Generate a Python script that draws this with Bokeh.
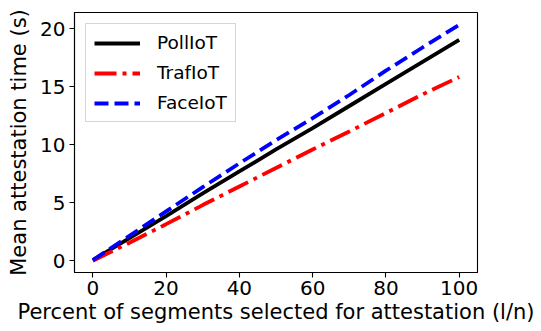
from bokeh.plotting import figure
from bokeh.embed import file_html
from bokeh.resources import INLINE
from bokeh.models import FixedTicker

# ---- data ----
percent = [0, 10, 20, 30, 40, 50, 60, 70, 80, 90, 100]
polliot = [0.05, 1.95, 3.85, 5.8, 7.7, 9.6, 11.45, 13.35, 15.25, 17.15, 19.05]
trafiot = [0.0, 1.55, 3.15, 4.8, 6.4, 8.0, 9.6, 11.15, 12.75, 14.35, 15.85]
faceiot = [0.05, 2.15, 4.25, 6.35, 8.4, 10.4, 12.3, 14.3, 16.4, 18.4, 20.35]
x_ticks = [0, 20, 40, 60, 80, 100]
y_ticks = [0, 5, 10, 15, 20]
xlabel = "Percent of segments selected for attestation (l/n)"
ylabel = "Mean attestation time (s)"

FONT = "DejaVu Sans"

p = figure(width=541, height=331, x_range=(-5, 105), y_range=(-1.02, 21.42),
           output_backend="svg", toolbar_location=None,
           min_border_left=74, min_border_right=64, min_border_top=12, min_border_bottom=59)

p.xgrid.visible = False
p.ygrid.visible = False
p.outline_line_color = "black"
p.outline_line_width = 1.1
p.outline_line_alpha = 1.0

p.line(percent, polliot, line_color="black", line_width=3.8, legend_label="PollIoT")
p.line(percent, trafiot, line_color="red", line_width=3.8, line_dash="22 6 4 6", legend_label="TrafIoT")
p.line(percent, faceiot, line_color="blue", line_width=3.8, line_dash="14 6", legend_label="FaceIoT")

for ax, ticks in ((p.xaxis, x_ticks), (p.yaxis, y_ticks)):
    ax.ticker = FixedTicker(ticks=ticks)
    ax.minor_tick_line_color = None
    ax.major_tick_in = 0
    ax.major_tick_out = 5
    ax.major_tick_line_color = "black"
    ax.major_tick_line_width = 1.1
    ax.axis_line_color = "black"
    ax.axis_line_width = 1.1
    ax.major_label_text_font = FONT
    ax.major_label_text_font_size = "20px"
    ax.major_label_text_color = "black"
    ax.axis_label_text_font = FONT
    ax.axis_label_text_font_size = "21px"
    ax.axis_label_text_font_style = "normal"
    ax.axis_label_text_color = "black"

p.xaxis.axis_label = xlabel
p.xaxis.major_label_standoff = 3
p.xaxis.axis_label_standoff = 2
p.yaxis.axis_label = ylabel
p.yaxis.major_label_standoff = 4
p.yaxis.axis_label_standoff = 6

lg = p.legend[0]
lg.location = "top_left"
lg.margin = 11
lg.padding = 8
lg.spacing = 9
lg.glyph_width = 46
lg.glyph_height = 20
lg.label_standoff = 17
lg.label_text_font = FONT
lg.label_text_font_size = "18.5px"
lg.label_text_color = "black"
lg.border_line_color = "#cccccc"
lg.border_line_alpha = 0.8
lg.border_line_width = 1.1
lg.background_fill_alpha = 0.8

open("out.html", "w").write(file_html(p, INLINE))
